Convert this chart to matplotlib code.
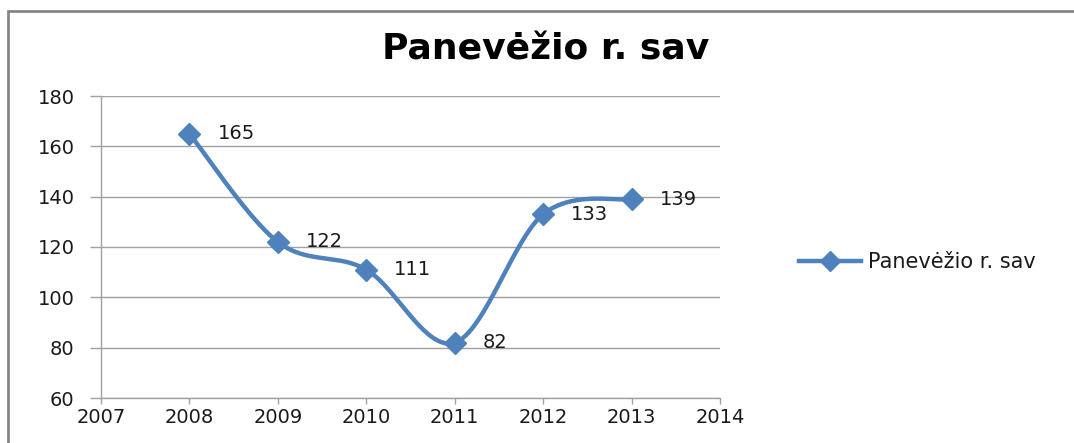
import numpy as np
import matplotlib.pyplot as plt
from matplotlib.lines import Line2D
from matplotlib.patches import Rectangle

years = [2008, 2009, 2010, 2011, 2012, 2013]
values = [165, 122, 111, 82, 133, 139]
series_name = "Panevėžio r. sav"
title = "Panevėžio r. sav"

blue = "#4F81BD"
grid_gray = "#A0A0A0"
text_col = "#1a1a1a"


# Excel style smoothed line (Catmull-Rom as cubic bezier)
def smooth(xs, ys, n=40):
    pts = np.column_stack([xs, ys]).astype(float)
    pad = np.vstack([pts[0], pts, pts[-1]])
    out = []
    for i in range(len(pts) - 1):
        p0, p1, p2, p3 = pad[i], pad[i + 1], pad[i + 2], pad[i + 3]
        c1 = p1 + (p2 - p0) / 6
        c2 = p2 - (p3 - p1) / 6
        t = np.linspace(0, 1, n)[:, None]
        seg = ((1 - t) ** 3) * p1 + 3 * ((1 - t) ** 2) * t * c1 + 3 * (1 - t) * t ** 2 * c2 + t ** 3 * p2
        out.append(seg if i == 0 else seg[1:])
    out = np.vstack(out)
    return out[:, 0], out[:, 1]


fig = plt.figure(figsize=(10.74, 4.43), dpi=100)
ax = fig.add_axes([101 / 1074, 45 / 443, 619 / 1074, 302 / 443])

# chart area border (cropped at right and bottom)
top = 1 - 10.5 / 443
fig.patches.append(Rectangle((8 / 1074, -0.2), 1.2, top + 0.2,
                             transform=fig.transFigure, fill=False,
                             edgecolor="#868686", linewidth=2))

sx, sy = smooth(years, values)
ax.plot(sx, sy, color=blue, linewidth=3.2, solid_capstyle="round", zorder=3)
ax.plot(years, values, linestyle="none", marker="D", markersize=11,
        color=blue, markeredgecolor=blue, zorder=4)

for x, v in zip(years, values):
    ax.annotate(str(v), (x, v), xytext=(28, 0), textcoords="offset pixels",
                ha="left", va="center", fontsize=14, color=text_col)

ax.set_xlim(2007, 2014)
ax.set_ylim(60, 180)
ax.set_xticks(range(2007, 2015))
ax.set_yticks(range(60, 181, 20))
ax.yaxis.grid(True, color=grid_gray, linewidth=1)
ax.set_axisbelow(True)

for s in ["top", "right"]:
    ax.spines[s].set_visible(False)
for s in ["left", "bottom"]:
    ax.spines[s].set_color(grid_gray)
    ax.spines[s].set_linewidth(1)

ax.tick_params(axis="y", direction="out", length=8, width=1, color=grid_gray,
               pad=11, labelsize=14, labelcolor=text_col)
ax.tick_params(axis="x", direction="out", length=4, width=1, color=grid_gray,
               pad=3, labelsize=14, labelcolor=text_col)

fig.text(546 / 1074, 1 - 50 / 443, title, ha="center", va="center",
         fontsize=26, fontweight="bold", color="black")

handle = Line2D([], [], color=blue, linewidth=3.2, marker="D", markersize=10)
fig.legend([handle], [series_name], loc="center left",
           bbox_to_anchor=(780 / 1074, 1 - 262 / 443), frameon=False,
           fontsize=15, handlelength=3.0, handletextpad=0.3,
           labelcolor=text_col)

fig.savefig("out.png", dpi=100)
